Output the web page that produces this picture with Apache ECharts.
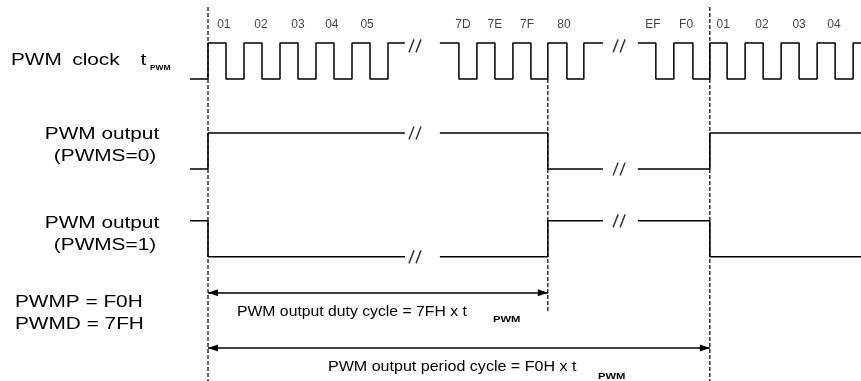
<!DOCTYPE html>
<html>
<head>
<meta charset="utf-8">
<script src="https://cdn.jsdelivr.net/npm/echarts@6.0.0/dist/echarts.min.js"></script>
<style>
  html, body { margin: 0; padding: 0; background: #fff; }
  #chart { width: 861px; height: 381px; }
</style>
</head>
<body>
<div id="chart"></div>
<script>
// x = layout position in clock periods (the // breaks are left out), 0 = start of count 01
// each waveform segment is a list of edge times, the level toggles at every inner edge
const clockEdges = [
  [-0.5, 0, 0.5, 1, 1.5, 2, 2.5, 3, 3.5, 4, 4.5, 5, 5.47],
  [6.44, 6.97, 7.47, 7.97, 8.47, 8.97, 9.44, 9.97, 10.44, 10.97],
  [11.94, 12.44, 12.94, 13.47, 13.94, 14.42, 14.92, 15.42, 15.92, 16.42, 16.92, 17.42, 17.92, 18.3]
]
const clockStart = [0, 1, 1]
const outEdges = [
  [-0.5, 0, 5.47],
  [6.44, 9.44, 10.97],
  [11.94, 13.94, 18.3]
]
const out0Start = [0, 1, 0]
const out1Start = [1, 0, 1]

const countLabels = ['01', '02', '03', '04', '05', '7D', '7E', '7F', '80', 'EF', 'F0', '01', '02', '03', '04']
const countPos = [0.44, 1.47, 2.5, 3.44, 4.42, 7.08, 7.97, 8.86, 9.89, 12.36, 13.28, 14.31, 15.39, 16.42, 17.39]

const breakPos = [5.75, 11.42]
const markerPos = [0, 9.44, 13.94]
const dutyEnd = 9.44
const periodEnd = 13.94

// rows (y in units of one signal swing)
const ROW_CLOCK = 0
const ROW_OUT0 = -2.5
const ROW_OUT1 = -4.94
const ROW_DUTY = -5.94
const ROW_PERIOD = -7.47
const markerTop = [2.0, 0, 2.0]
const markerBottom = [-8.39, -6.47, -8.39]

const FONT = 'Liberation Sans, Arial, sans-serif'
const BLACK = '#000'

function stepPoints (edges, start, base) {
  const pts = []
  let lvl = start
  pts.push([edges[0], base + lvl])
  for (let i = 1; i < edges.length - 1; i++) {
    pts.push([edges[i], base + lvl])
    lvl = 1 - lvl
    pts.push([edges[i], base + lvl])
  }
  pts.push([edges[edges.length - 1], base + lvl])
  return pts
}

function endLevel (edges, start) {
  return (edges.length - 2) % 2 === 0 ? start : 1 - start
}

function waveSeries (pts) {
  return {
    type: 'line',
    data: pts,
    symbol: 'none',
    silent: true,
    animation: false,
    lineStyle: {color: BLACK, width: 1.5}
  }
}

const series = []
clockEdges.forEach((e, i) => series.push(waveSeries(stepPoints(e, clockStart[i], ROW_CLOCK))))
outEdges.forEach((e, i) => series.push(waveSeries(stepPoints(e, out0Start[i], ROW_OUT0))))
outEdges.forEach((e, i) => series.push(waveSeries(stepPoints(e, out1Start[i], ROW_OUT1))))

// dashed time markers
markerPos.forEach((x, i) => {
  series.push({
    type: 'line',
    data: [[x, markerTop[i]], [x, markerBottom[i]]],
    symbol: 'none',
    silent: true,
    animation: false,
    lineStyle: {color: BLACK, width: 1.2, type: [4, 2]}
  })
})

// "//" break marks, placed on the level each signal has when it is cut
const breakData = []
breakPos.forEach((x, i) => {
  breakData.push([x, ROW_CLOCK + 0.92])
  breakData.push([x, ROW_OUT0 + endLevel(outEdges[i], out0Start[i])])
  breakData.push([x, ROW_OUT1 + endLevel(outEdges[i], out1Start[i])])
})
series.push({
  type: 'scatter',
  data: breakData,
  symbol: 'path://M0,14 L5,0 M7,14 L12,0',
  symbolSize: [12, 13],
  silent: true,
  animation: false,
  itemStyle: {color: 'none', borderColor: BLACK, borderWidth: 1.5}
})

// clock count labels
series.push({
  type: 'scatter',
  data: countPos.map((x, i) => ({value: [x, ROW_CLOCK + 1.5], name: countLabels[i]})),
  symbolSize: 0,
  silent: true,
  animation: false,
  label: {
    show: true,
    position: 'inside',
    formatter: p => p.name,
    color: '#111',
    fontSize: 12,
    fontFamily: FONT
  }
})

// duty / period arrows
series.push({
  type: 'line',
  data: [],
  silent: true,
  animation: false,
  markLine: {
    silent: true,
    animation: false,
    symbol: ['triangle', 'triangle'],
    symbolSize: [7, 10],
    symbolOffset: [[0, '50%'], [0, '50%']],
    label: {show: false},
    lineStyle: {color: BLACK, width: 1.5, type: 'solid'},
    data: [
      [{coord: [0, ROW_DUTY]}, {coord: [dutyEnd, ROW_DUTY]}],
      [{coord: [0, ROW_PERIOD]}, {coord: [periodEnd, ROW_PERIOD]}]
    ]
  }
})

function txt (text, x, y, size, opts) {
  opts = opts || {}
  return {
    type: 'text',
    x: x,
    y: y,
    scaleX: opts.sx || 1,
    silent: true,
    style: {
      text: text,
      fill: BLACK,
      fontSize: size,
      fontFamily: FONT,
      fontWeight: opts.bold ? 'bold' : 'normal',
      textAlign: opts.align || 'left',
      textVerticalAlign: 'middle'
    }
  }
}

const chart = echarts.init(document.getElementById('chart'))
chart.setOption({
  backgroundColor: '#fff',
  animation: false,
  grid: {left: 0, right: 0, top: 0, bottom: 0},
  xAxis: {type: 'value', min: -5.778, max: 18.139, show: false},
  yAxis: {type: 'value', min: -8.389, max: 2.194, show: false},
  series: series,
  graphic: [
    // wide gaps as in the original label
    txt('PWM\u2002clock\u2003t', 11, 61, 16, {sx: 1.3}),
    txt('PWM', 150, 68, 8, {bold: true, sx: 1.05}),
    txt('PWM output', 102, 135, 16, {sx: 1.3, align: 'center'}),
    txt('(PWMS=0)', 105, 157, 16, {sx: 1.3, align: 'center'}),
    txt('PWM output', 102, 224, 16, {sx: 1.3, align: 'center'}),
    txt('(PWMS=1)', 105, 246, 16, {sx: 1.3, align: 'center'}),
    txt('PWMP = F0H', 15, 303, 16, {sx: 1.3}),
    txt('PWMD = 7FH', 15, 325, 16, {sx: 1.3}),
    txt('PWM output duty cycle = 7FH x t', 237, 312, 15, {sx: 1.05}),
    txt('PWM', 493, 320, 9, {bold: true, sx: 1.25}),
    txt('PWM output period cycle = F0H x t', 328, 367, 15, {sx: 1.07}),
    txt('PWM', 598, 377, 9, {bold: true, sx: 1.25})
  ]
})
</script>
</body>
</html>
